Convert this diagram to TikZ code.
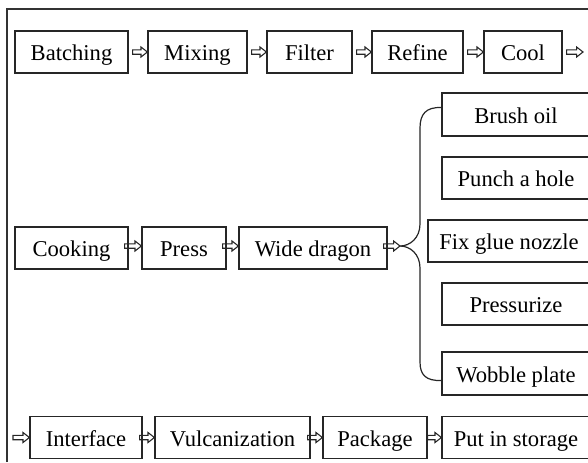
\documentclass[tikz,border=0pt]{standalone}
\usepackage{fontspec}
\setmainfont{Liberation Serif}
\usetikzlibrary{calc}
\begin{document}
\begin{tikzpicture}[x=0.5pt, y=-0.5pt,
  box/.style={draw=black!85, line width=0.6pt, inner sep=0pt,
    minimum height=21pt, text height=9.5pt, text depth=0.8pt,
    font=\fontsize{11.3}{13}\selectfont},
  bw/.style={minimum width=0.5pt*#1},
  frame/.style={draw=black!80, line width=0.75pt},
  brace/.style={draw=black!85, line width=0.6pt},
  % hollow block arrow, tip at the target point
  flow/.style={draw=black!85, line width=0.55pt, line join=miter,
    to path={let \p1=(\tikztostart), \p2=(\tikztotarget) in
      (\x1,\y1-1.1pt) -- (\x2-3.2pt,\y2-1.1pt) -- (\x2-3.2pt,\y2-2.5pt) -- (\x2,\y2)
      -- (\x2-3.2pt,\y2+2.5pt) -- (\x2-3.2pt,\y2+1.1pt) -- (\x1,\y1+1.1pt) -- cycle}},
]
\useasboundingbox (0,0) rectangle (588,462);

% outer frame
\draw[frame] (7,462) -- (7,9) -- (588,9);

% first row
\node[box, bw=113] (batch)  at (71.5,52)  {Batching};
\node[box, bw=99]  (mix)    at (197.5,52) {Mixing};
\node[box, bw=85]  (filter) at (309.5,52) {Filter};
\node[box, bw=91]  (refine) at (417.5,52) {Refine};
\node[box, bw=78]  (cool)   at (523,52)   {Cool};
\coordinate (coolout) at (583,52);

\draw[flow] ([xshift=2pt]batch.east)  to (mix.west);
\draw[flow] ([xshift=2pt]mix.east)    to (filter.west);
\draw[flow] ([xshift=2pt]filter.east) to (refine.west);
\draw[flow] ([xshift=2pt]refine.east) to (cool.west);
\draw[flow] ([xshift=2pt]cool.east)   to (coolout);

% second row
\node[box, bw=113] (cook)  at (71.5,248) {Cooking};
\node[box, bw=84]  (press) at (184,248)  {Press};
\node[box, bw=148] (wide)  at (313,248)  {Wide dragon};
\coordinate (tip) at (400,246);

\draw[flow] ([xshift=-2pt,yshift=1pt]cook.east)  to ([yshift=1pt]press.west);
\draw[flow] ([xshift=-2pt,yshift=1pt]press.east) to ([yshift=1pt]wide.west);
\draw[flow] ([xshift=-2pt,yshift=1pt]wide.east)  to (tip);

% branch column
\node[box, bw=148, minimum height=21.5pt] (brush)  at (516,114.5) {Brush oil};
\node[box, bw=148] (punch)  at (516,178)   {Punch a hole};
\node[box, bw=162] (fix)    at (509,241)   {Fix glue nozzle};
\node[box, bw=148] (pres)   at (516,304)   {Pressurize};
\node[box, bw=148, minimum height=21.5pt] (wobble) at (516,373.5) {Wobble plate};

% curly brace joining the branch
\draw[brace] ([yshift=3.5pt]brush.west)
  .. controls (426,107) and (420,114) .. (420,128)
  -- (420,224)
  .. controls (420,238) and (410,246) .. (tip)
  .. controls (410,246) and (420,254) .. (420,268)
  -- (420,362)
  .. controls (420,375) and (426,381) .. ([yshift=-3.5pt]wobble.west);

% bottom row
\coordinate (framein) at (13,437.5);
\node[box, bw=112] (inter) at (86,437.5)    {Interface};
\node[box, bw=155] (vulc)  at (232.5,437.5) {Vulcanization};
\node[box, bw=104] (pack)  at (375,437.5)   {Package};
\node[box, bw=148] (store) at (516,437.5)   {Put in storage};

\draw[flow] (framein) to (inter.west);
\draw[flow] ([xshift=-1.5pt]inter.east) to (vulc.west);
\draw[flow] ([xshift=-1.5pt]vulc.east)  to (pack.west);
\draw[flow] (pack.east) to (store.west);
\end{tikzpicture}
\end{document}
